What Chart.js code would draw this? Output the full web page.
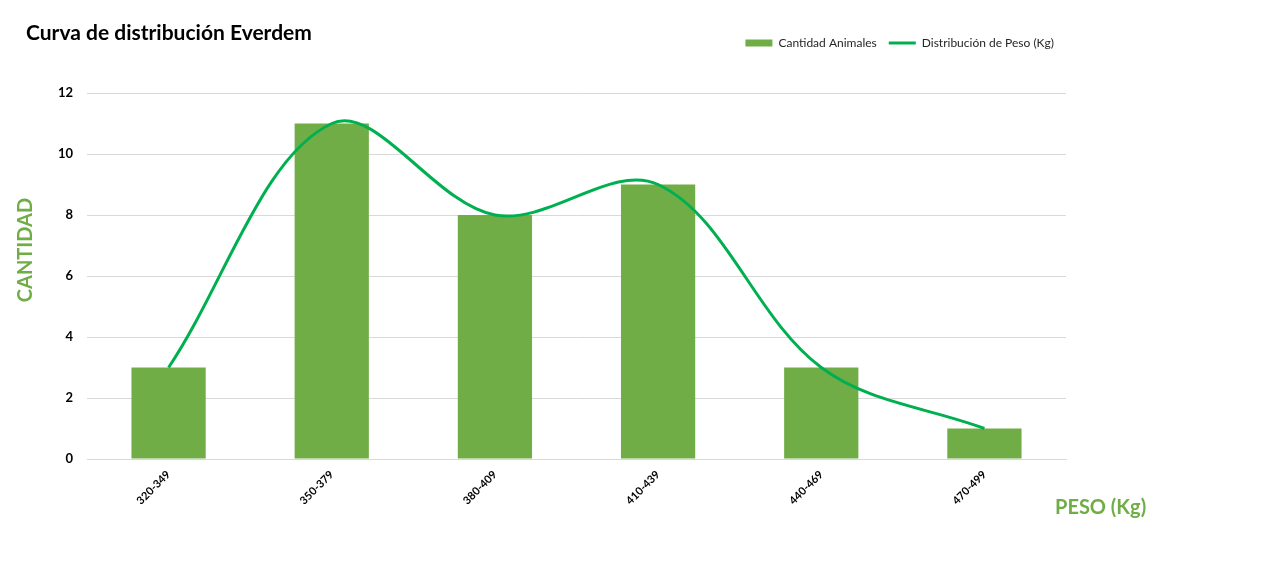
<!DOCTYPE html>
<html>
<head>
<meta charset="utf-8">
<script src="https://cdn.jsdelivr.net/npm/chart.js@4.4.1/dist/chart.umd.min.js"></script>
<style>
  html, body { margin: 0; padding: 0; background: #fff; }
  #wrap { width: 1262px; height: 562px; }
</style>
</head>
<body>
<div id="wrap"><canvas id="myChart" width="1262" height="562"></canvas></div>
<script>
const rangos = ['320-349', '350-379', '380-409', '410-439', '440-469', '470-499'];
const cantidad = [3, 11, 8, 9, 3, 1];
const distribucion = [3, 11, 8, 9, 3, 1];
const yTicks = [0, 2, 4, 6, 8, 10, 12];

const verde = '#70AD47';
const verdeLinea = '#00B050';
const fuente = 'Lato, "Open Sans", sans-serif';

// titulo, titulo del eje y y del eje x dibujados a mano
const textos = {
    id: 'textos',
    afterDraw(chart) {
        const ctx = chart.ctx;
        const area = chart.chartArea;
        ctx.save();
        ctx.fillStyle = '#000';
        ctx.font = 'bold 21px ' + fuente;
        ctx.textBaseline = 'middle';
        ctx.textAlign = 'left';
        ctx.fillText('Curva de distribución Everdem', 26, 33);
        ctx.fillStyle = verde;
        ctx.font = 'bold 20px ' + fuente;
        ctx.fillText('PESO (Kg)', area.right - 11, 508);
        ctx.translate(26, 250);
        ctx.rotate(-Math.PI / 2);
        ctx.textAlign = 'center';
        ctx.fillText('CANTIDAD', 0, 0);
        ctx.restore();
    }
};

const legendMargin = {
    id: 'legendMargin',
    beforeInit(chart) {
        const fit = chart.legend.fit;
        chart.legend.fit = function () {
            fit.bind(chart.legend)();
            this.height += 34;
        };
    }
};

const config = {
    type: 'bar',
    data: {
        labels: rangos,
        datasets: [
            {
                label: 'Cantidad Animales',
                data: cantidad,
                backgroundColor: verde,
                borderWidth: 0,
                categoryPercentage: 1,
                barPercentage: 0.455,
                order: 1,
                pointStyle: 'rect'
            },
            {
                type: 'line',
                label: 'Distribución de Peso (Kg)',
                data: distribucion,
                borderColor: verdeLinea,
                backgroundColor: verdeLinea,
                borderWidth: 3,
                pointRadius: 0,
                tension: 0.35,
                fill: false,
                order: 0,
                pointStyle: 'line'
            }
        ]
    },
    options: {
        responsive: false,
        animation: false,
        layout: { padding: { left: 34, right: 196, top: 25, bottom: 0 } },
        plugins: {
            title: { display: false },
            tooltip: { enabled: false },
            legend: {
                position: 'top',
                align: 'end',
                labels: {
                    usePointStyle: true,
                    pointStyleWidth: 27,
                    boxHeight: 7,
                    padding: 12,
                    color: '#262626',
                    font: { family: fuente, size: 12 },
                    sort: (a, b) => a.datasetIndex - b.datasetIndex
                }
            }
        },
        scales: {
            x: {
                grid: { display: false },
                border: { display: true, color: '#d9d9d9' },
                ticks: {
                    color: '#000',
                    font: { family: fuente, size: 11, weight: 'bold' },
                    minRotation: 45,
                    maxRotation: 45,
                    padding: 1
                },
                afterFit(scale) { scale.height = 103; }
            },
            y: {
                min: 0,
                max: 12,
                afterBuildTicks(scale) { scale.ticks = yTicks.map(v => ({ value: v })); },
                grid: { color: '#d9d9d9', drawTicks: false },
                border: { display: false },
                ticks: {
                    color: '#000',
                    font: { family: fuente, size: 13, weight: 'bold' },
                    padding: 14
                },
                afterFit(scale) { scale.width = 53; }
            }
        }
    },
    plugins: [textos, legendMargin]
};

new Chart(document.getElementById('myChart'), config);
</script>
</body>
</html>
